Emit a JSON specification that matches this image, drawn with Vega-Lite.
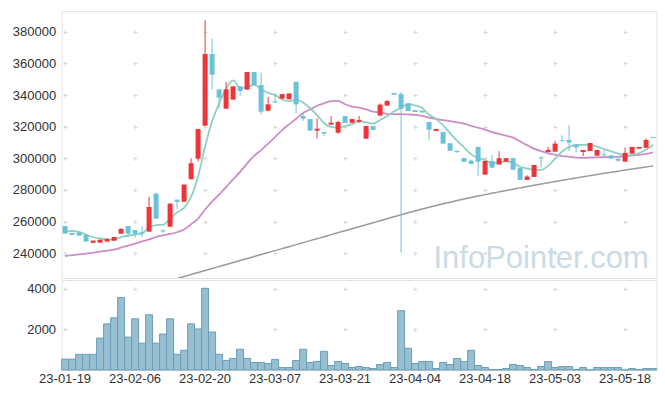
{
  "$schema": "https://vega.github.io/schema/vega-lite/v6.json",
  "autosize": {"type": "pad"},
  "padding": {"left": 11.6, "top": 10, "right": 5, "bottom": 5},
  "background": "white",
  "spacing": 0,
  "config": {
    "view": {"stroke": "#e3e3e3"},
    "axis": {"labelFont": "Liberation Sans", "labelFontSize": 13, "labelColor": "#333333", "ticks": false, "domain": false, "title": null, "gridColor": "#d6d6d6", "gridWidth": 1, "labelOverlap": false}
  },
  "data": {"values": [
    {"d":"23-01-19","o":257200,"c":252500,"h":257200,"l":252500,"v":535,"m5":253700,"m20":238300},
    {"d":"23-01-20","o":252800,"c":251600,"h":252800,"l":251600,"v":535,"m5":254100,"m20":238800},
    {"d":"23-01-25","o":253200,"c":251200,"h":253200,"l":251200,"v":770,"m5":253500,"m20":239300},
    {"d":"23-01-26","o":251600,"c":247400,"h":251600,"l":247400,"v":770,"m5":251800,"m20":239770},
    {"d":"23-01-27","o":246700,"c":248000,"h":248000,"l":246100,"v":770,"m5":250140,"m20":240400},
    {"d":"23-01-30","o":246700,"c":248600,"h":248600,"l":246700,"v":1570,"m5":249360,"m20":241000},
    {"d":"23-01-31","o":247400,"c":249000,"h":249700,"l":247400,"v":2270,"m5":248840,"m20":241700},
    {"d":"23-02-01","o":248000,"c":250300,"h":250300,"l":248000,"v":2570,"m5":248660,"m20":242400},
    {"d":"23-02-02","o":252400,"c":255400,"h":255800,"l":252400,"v":3570,"m5":250260,"m20":243600},
    {"d":"23-02-03","o":257200,"c":252400,"h":257200,"l":250300,"v":1620,"m5":251140,"m20":244800},
    {"d":"23-02-06","o":254700,"c":252400,"h":254700,"l":249900,"v":2520,"m5":251900,"m20":246100},
    {"d":"23-02-07","o":253300,"c":252600,"h":257100,"l":250300,"v":1320,"m5":252640,"m20":247500},
    {"d":"23-02-08","o":253700,"c":269300,"h":275600,"l":253700,"v":2720,"m5":256440,"m20":248800},
    {"d":"23-02-09","o":277700,"c":261900,"h":278300,"l":261900,"v":1320,"m5":257740,"m20":250300},
    {"d":"23-02-10","o":254400,"c":253800,"h":255100,"l":253000,"v":1770,"m5":258060,"m20":251350},
    {"d":"23-02-13","o":256800,"c":271400,"h":271400,"l":256800,"v":2520,"m5":261860,"m20":252200},
    {"d":"23-02-14","o":273900,"c":272600,"h":273900,"l":268000,"v":770,"m5":265840,"m20":253300,"m120":224100},
    {"d":"23-02-15","o":272600,"c":283400,"h":283400,"l":272600,"v":970,"m5":268660,"m20":255000,"m120":225350},
    {"d":"23-02-16","o":286800,"c":296900,"h":300000,"l":286800,"v":2270,"m5":275660,"m20":258400,"m120":226600},
    {"d":"23-02-17","o":299800,"c":318500,"h":318500,"l":298100,"v":2020,"m5":288560,"m20":261975,"m120":227850},
    {"d":"23-02-20","o":320600,"c":365900,"h":387200,"l":320600,"v":4020,"m5":307460,"m20":267645,"m120":229100},
    {"d":"23-02-21","o":365900,"c":352800,"h":375600,"l":343600,"v":1870,"m5":323500,"m20":272705,"m120":230400},
    {"d":"23-02-22","o":343600,"c":338300,"h":343600,"l":331600,"v":770,"m5":334480,"m20":277060,"m120":231650},
    {"d":"23-02-23","o":331400,"c":343600,"h":348200,"l":331400,"v":470,"m5":343820,"m20":281870,"m120":232900},
    {"d":"23-02-24","o":337100,"c":345500,"h":345500,"l":337100,"v":570,"m5":349220,"m20":286745,"m120":234150},
    {"d":"23-02-27","o":345500,"c":342500,"h":345500,"l":339400,"v":1020,"m5":344540,"m20":291440,"m120":235400},
    {"d":"23-02-28","o":343400,"c":354500,"h":354500,"l":343400,"v":570,"m5":344880,"m20":296715,"m120":236700},
    {"d":"23-03-02","o":354500,"c":346300,"h":354500,"l":346300,"v":370,"m5":346480,"m20":301515,"m120":237950},
    {"d":"23-03-03","o":346300,"c":329500,"h":354100,"l":327800,"v":370,"m5":343660,"m20":305220,"m120":239200},
    {"d":"23-03-06","o":330100,"c":334100,"h":338700,"l":330100,"v":320,"m5":341380,"m20":309305,"m120":240450},
    {"d":"23-03-07","o":336000,"c":335300,"h":340600,"l":335000,"v":520,"m5":339980,"m20":313460,"m120":241700},
    {"d":"23-03-08","o":337700,"c":340600,"h":340600,"l":337700,"v":120,"m5":337200,"m20":317855,"m120":242950},
    {"d":"23-03-09","o":337300,"c":341000,"h":341000,"l":337300,"v":120,"m5":336140,"m20":321440,"m120":244200},
    {"d":"23-03-10","o":348300,"c":334100,"h":348300,"l":328400,"v":470,"m5":337060,"m20":325050,"m120":245500},
    {"d":"23-03-13","o":326700,"c":325100,"h":329500,"l":323600,"v":1020,"m5":335260,"m20":328605,"m120":246750},
    {"d":"23-03-14","o":324800,"c":317500,"h":324800,"l":317500,"v":370,"m5":331660,"m20":330910,"m120":248000},
    {"d":"23-03-15","o":317500,"c":318700,"h":325300,"l":312600,"v":420,"m5":327280,"m20":333215,"m120":249250},
    {"d":"23-03-16","o":316600,"c":315600,"h":316600,"l":314100,"v":920,"m5":322200,"m20":334825,"m120":250500},
    {"d":"23-03-17","o":321300,"c":322500,"h":326700,"l":321300,"v":220,"m5":319880,"m20":336105,"m120":251800},
    {"d":"23-03-20","o":316200,"c":322900,"h":323800,"l":315600,"v":420,"m5":319440,"m20":336325,"m120":253050},
    {"d":"23-03-21","o":326700,"c":322300,"h":326700,"l":322300,"v":320,"m5":320400,"m20":334145,"m120":254300},
    {"d":"23-03-22","o":322500,"c":324800,"h":324800,"l":322500,"v":120,"m5":321620,"m20":332745,"m120":255550},
    {"d":"23-03-23","o":323200,"c":324200,"h":326700,"l":322300,"v":170,"m5":323340,"m20":332040,"m120":256800},
    {"d":"23-03-24","o":312400,"c":320400,"h":320400,"l":312400,"v":120,"m5":322920,"m20":330880,"m120":258050},
    {"d":"23-03-27","o":320400,"c":317900,"h":320400,"l":317900,"v":70,"m5":321920,"m20":329500,"m120":259300},
    {"d":"23-03-28","o":327000,"c":333900,"h":334700,"l":327000,"v":270,"m5":324240,"m20":329070,"m120":260550},
    {"d":"23-03-29","o":333300,"c":336200,"h":336800,"l":333300,"v":370,"m5":326520,"m20":328155,"m120":261850},
    {"d":"23-03-30","o":341300,"c":340200,"h":341300,"l":340200,"v":120,"m5":329720,"m20":327850,"m120":263100},
    {"d":"23-03-31","o":340600,"c":331400,"h":341900,"l":240400,"v":2920,"m5":331920,"m20":327945,"m120":264350},
    {"d":"23-04-03","o":334500,"c":329900,"h":335200,"l":329900,"v":1070,"m5":334320,"m20":327735,"m120":265580},
    {"d":"23-04-04","o":330500,"c":329300,"h":330500,"l":329300,"v":320,"m5":333400,"m20":327425,"m120":266780},
    {"d":"23-04-05","o":330100,"c":328900,"h":330100,"l":328900,"v":420,"m5":331940,"m20":326840,"m120":267950},
    {"d":"23-04-06","o":323000,"c":318100,"h":323000,"l":311400,"v":420,"m5":327520,"m20":325695,"m120":269090},
    {"d":"23-04-07","o":317300,"c":318500,"h":318500,"l":317300,"v":70,"m5":324940,"m20":324915,"m120":270190},
    {"d":"23-04-10","o":316600,"c":309300,"h":316600,"l":309300,"v":370,"m5":320820,"m20":324125,"m120":271260},
    {"d":"23-04-11","o":309500,"c":304800,"h":309500,"l":304800,"v":270,"m5":315920,"m20":323490,"m120":272300},
    {"d":"23-04-12","o":304700,"c":304000,"h":305100,"l":303400,"v":570,"m5":310980,"m20":322765,"m120":273310},
    {"d":"23-04-13","o":300200,"c":297800,"h":300200,"l":297800,"v":420,"m5":306920,"m20":321875,"m120":274290},
    {"d":"23-04-14","o":298500,"c":296500,"h":299200,"l":296500,"v":970,"m5":302520,"m20":320575,"m120":275240},
    {"d":"23-04-17","o":307200,"c":297800,"h":307200,"l":288600,"v":220,"m5":300220,"m20":319320,"m120":276170},
    {"d":"23-04-18","o":289700,"c":298300,"h":298300,"l":289700,"v":120,"m5":298920,"m20":318120,"m120":277080},
    {"d":"23-04-19","o":298300,"c":294100,"h":302100,"l":294100,"v":20,"m5":296900,"m20":316585,"m120":277950},
    {"d":"23-04-20","o":296100,"c":300100,"h":304500,"l":296100,"v":20,"m5":297360,"m20":315380,"m120":278810},
    {"d":"23-04-21","o":297900,"c":300100,"h":300100,"l":297900,"v":70,"m5":298080,"m20":314365,"m120":279660},
    {"d":"23-04-24","o":300100,"c":292800,"h":300100,"l":292800,"v":270,"m5":297080,"m20":313110,"m120":280500},
    {"d":"23-04-25","o":294000,"c":286400,"h":294000,"l":286400,"v":220,"m5":294700,"m20":310735,"m120":281330},
    {"d":"23-04-26","o":286400,"c":288500,"h":289300,"l":286400,"v":120,"m5":293580,"m20":308350,"m120":282150},
    {"d":"23-04-27","o":288300,"c":295800,"h":295800,"l":288300,"v":20,"m5":292720,"m20":306130,"m120":282960},
    {"d":"23-04-28","o":300600,"c":300000,"h":301500,"l":294100,"v":170,"m5":292740,"m20":304570,"m120":283760},
    {"d":"23-05-02","o":304000,"c":305300,"h":307200,"l":304000,"v":420,"m5":295240,"m20":303340,"m120":284550},
    {"d":"23-05-03","o":304200,"c":309300,"h":311000,"l":304200,"v":120,"m5":299820,"m20":302340,"m120":285330},
    {"d":"23-05-04","o":311400,"c":310900,"h":314500,"l":310300,"v":170,"m5":304320,"m20":301445,"m120":286100},
    {"d":"23-05-08","o":311600,"c":309900,"h":320900,"l":304600,"v":170,"m5":307140,"m20":301035,"m120":286860},
    {"d":"23-05-09","o":308600,"c":306900,"h":308600,"l":303600,"v":20,"m5":308480,"m20":300455,"m120":287610},
    {"d":"23-05-10","o":304000,"c":305300,"h":305300,"l":301400,"v":120,"m5":308480,"m20":300255,"m120":288350},
    {"d":"23-05-11","o":304600,"c":309700,"h":309700,"l":304600,"v":0,"m5":308560,"m20":300500,"m120":289080},
    {"d":"23-05-12","o":301700,"c":305300,"h":305300,"l":301700,"v":120,"m5":307420,"m20":300555,"m120":289800},
    {"d":"23-05-15","o":302500,"c":301900,"h":305000,"l":301400,"v":120,"m5":305820,"m20":300760,"m120":290510},
    {"d":"23-05-16","o":301900,"c":299800,"h":301900,"l":299800,"v":120,"m5":304400,"m20":300925,"m120":291210},
    {"d":"23-05-17","o":299800,"c":298500,"h":299800,"l":297900,"v":120,"m5":303040,"m20":300960,"m120":291900},
    {"d":"23-05-18","o":297900,"c":303400,"h":306800,"l":297900,"v":0,"m5":301780,"m20":301215,"m120":292580},
    {"d":"23-05-19","o":303000,"c":307200,"h":307200,"l":303000,"v":70,"m5":302160,"m20":301870,"m120":293250},
    {"d":"23-05-22","o":306100,"c":307200,"h":307200,"l":306100,"v":20,"m5":303220,"m20":302225,"m120":293910},
    {"d":"23-05-23","o":306700,"c":311600,"h":312400,"l":306700,"v":70,"m5":305580,"m20":302800,"m120":294560},
    {"d":"23-05-24","o":313500,"c":312900,"h":313500,"l":312900,"v":70,"m5":308500,"m20":303815,"m120":295200}
  ]},
  "vconcat": [
    {
      "width": 595,
      "height": 267,
      "encoding": {
        "x": {"field": "d", "type": "nominal", "sort": null, "scale": {"type": "band", "paddingInner": 0, "paddingOuter": 0},
              "axis": {"labels": false, "grid": true, "bandPosition": 0.5, "orient": "bottom",
                       "values": ["23-01-19","23-02-06","23-02-20","23-03-07","23-03-21","23-04-04","23-04-18","23-05-03","23-05-18"],
                       "gridDash": [4, 27.658], "gridDashOffset": 12.96}}
      },
      "layer": [
        {
          "mark": {"type": "line", "color": "#9a9a9a", "strokeWidth": 1.5, "interpolate": "monotone", "clip": true},
          "encoding": {
            "y": {"field": "m120", "type": "quantitative", "scale": {"domain": [224400, 393080], "zero": false, "nice": false},
                  "axis": {"values": [240000, 260000, 280000, 300000, 320000, 340000, 360000, 380000], "tickCount": 20, "format": "d", "labelOverlap": false, "labelPadding": 6, "grid": true, "gridDash": [4, 66], "gridDashOffset": 68.5}}
          }
        },
        {
          "mark": {"type": "line", "color": "#cc8ec6", "strokeWidth": 1.8, "interpolate": "monotone", "clip": true},
          "encoding": {"y": {"field": "m20", "type": "quantitative"}}
        },
        {
          "mark": {"type": "line", "color": "#8fd0c2", "strokeWidth": 1.8, "interpolate": "monotone", "clip": true},
          "encoding": {"y": {"field": "m5", "type": "quantitative"}}
        },
        {
          "mark": {"type": "rule", "strokeWidth": 1},
          "encoding": {
            "y": {"field": "l", "type": "quantitative"},
            "y2": {"field": "h"},
            "color": {"condition": {"test": "datum.c >= datum.o", "value": "#ee3438"}, "value": "#6cc1da"}
          }
        },
        {
          "mark": {"type": "bar", "size": 5},
          "encoding": {
            "y": {"field": "o", "type": "quantitative"},
            "y2": {"field": "c"},
            "color": {"condition": {"test": "datum.c >= datum.o", "value": "#ee3438"}, "value": "#6cc1da"}
          }
        },
        {
          "transform": [{"filter": "datum.d == '23-04-28'"}],
          "mark": {"type": "text", "text": "InfoPointer.com", "font": "Liberation Sans", "fontSize": 31, "color": "#c6d8e3", "opacity": 0.9, "align": "center", "baseline": "alphabetic"},
          "encoding": {
            "y": {"datum": 230700, "type": "quantitative"}
          }
        }
      ]
    },
    {
      "width": 595,
      "height": 90,
      "mark": {"type": "bar", "fill": "#98bfd1", "stroke": "#6a9db6", "strokeWidth": 1},
      "encoding": {
        "x": {"field": "d", "type": "nominal", "sort": null, "scale": {"type": "band", "paddingInner": 0, "paddingOuter": 0},
              "axis": {"values": ["23-01-19","23-02-06","23-02-20","23-03-07","23-03-21","23-04-04","23-04-18","23-05-03","23-05-18"],
                       "labelAngle": 0, "labelPadding": 3, "labelOverlap": false, "grid": true, "bandPosition": 0.5, "gridDash": [4, 36.63], "gridDashOffset": 33.89}},
        "y": {"field": "v", "type": "quantitative", "scale": {"domain": [0, 4430], "nice": false},
              "axis": {"values": [2000, 4000], "tickCount": 10, "format": "d", "labelOverlap": false, "labelPadding": 6, "grid": true, "gridDash": [4, 66], "gridDashOffset": 68.5}}
      }
    }
  ]
}
